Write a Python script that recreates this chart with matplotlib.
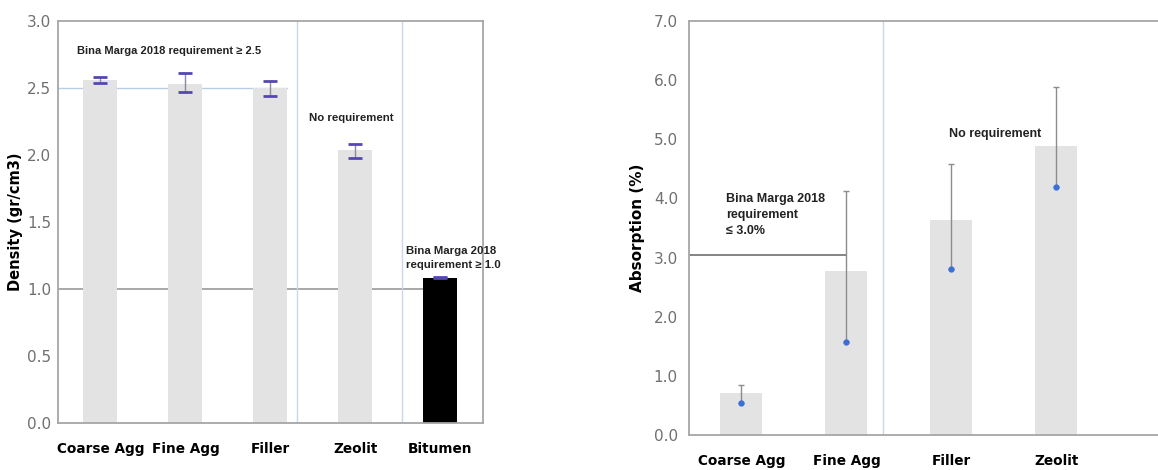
import numpy as np
import matplotlib.pyplot as plt

# density data (left panel)
dens_cats = ["Coarse Agg", "Fine Agg", "Filler", "Zeolit", "Bitumen"]
dens_vals = [2.56, 2.53, 2.50, 2.04, 1.08]
dens_lo = [2.54, 2.47, 2.44, 1.98, 1.08]
dens_hi = [2.58, 2.61, 2.55, 2.08, 1.09]

# absorption data (right panel)
abs_cats = ["Coarse Agg", "Fine Agg", "Filler", "Zeolit"]
abs_vals = [0.71, 2.78, 3.64, 4.88]
abs_point = [0.54, 1.58, 2.81, 4.19]
abs_hi = [0.85, 4.12, 4.58, 5.88]

bar_grey = "#e3e3e3"
spine_grey = "#a6a6a6"
tick_grey = "#707070"
note_font = "Liberation Sans"

fig = plt.figure(figsize=(11.58, 4.70), dpi=100)

# ---- left: density
ax1 = fig.add_axes([0.050, 0.100, 0.367, 0.855])
x1 = np.arange(len(dens_cats))
colors = [bar_grey] * 4 + ["black"]
ax1.bar(x1, dens_vals, width=0.4, color=colors, zorder=2)
yerr = [np.array(dens_vals) - np.array(dens_lo), np.array(dens_hi) - np.array(dens_vals)]
eb = ax1.errorbar(x1, dens_vals, yerr=yerr, fmt="none", ecolor="#8a8a9a",
                  elinewidth=1, capsize=5, capthick=2, zorder=3)
for cap in eb[1]:
    cap.set_markeredgecolor("#5448b0")

ax1.plot([-0.5, 2.2], [2.5, 2.5], color="#b8cde8", lw=1, zorder=1)
ax1.plot([-0.5, 3.8], [1.0, 1.0], color="#9a9a9a", lw=1.2, zorder=1)
ax1.axvline(2.31, color="#c8d6ee", lw=1, zorder=1)
ax1.axvline(3.55, color="#c8d6ee", lw=1, zorder=1)

ax1.text(-0.28, 2.78, "Bina Marga 2018 requirement \u2265 2.5", fontsize=8,
         fontweight="bold", family=note_font, color="#222222", va="center")
ax1.text(2.46, 2.28, "No requirement", fontsize=8.2, fontweight="bold",
         family=note_font, color="#222222", va="center")
ax1.text(3.6, 1.23, "Bina Marga 2018\nrequirement \u2265 1.0", fontsize=8.2,
         fontweight="bold", family=note_font, color="#222222",
         va="center", linespacing=1.5)

ax1.set_xlim(-0.5, 4.5)
ax1.set_ylim(0, 3.0)
ax1.set_yticks(np.arange(0, 3.01, 0.5))
ax1.set_yticklabels([f"{v:.1f}" for v in np.arange(0, 3.01, 0.5)])
ax1.set_xticks(x1)
ax1.set_xticklabels(dens_cats, fontweight="bold", fontsize=9.8)
ax1.set_ylabel("Density (gr/cm3)", fontweight="bold", fontsize=10.5, labelpad=3)
ax1.tick_params(axis="both", length=0)
ax1.tick_params(axis="y", labelcolor=tick_grey, labelsize=11, pad=5)
ax1.tick_params(axis="x", pad=14)
for s in ax1.spines.values():
    s.set_color(spine_grey)
    s.set_linewidth(1.3)

# ---- right: absorption
ax2 = fig.add_axes([0.595, 0.0745, 0.405, 0.881])
x2 = np.arange(len(abs_cats))
ax2.bar(x2, abs_vals, width=0.4, color=bar_grey, zorder=2)
up = np.array(abs_hi) - np.array(abs_point)
ax2.errorbar(x2, abs_point, yerr=[np.zeros(len(up)), up], fmt="o",
             color="#3a6fd8", markersize=3.5, ecolor="#8c8c8c",
             elinewidth=1, capsize=2, capthick=1, zorder=3)

ax2.plot([-0.5, 1.0], [3.05, 3.05], color="#7a7a7a", lw=1.3, zorder=1)
ax2.axvline(1.35, color="#c8d6ee", lw=1, zorder=1)

ax2.text(-0.15, 3.72, "Bina Marga 2018\nrequirement\n\u2264 3.0%", fontsize=9,
         fontweight="bold", family=note_font, color="#222222",
         va="center", linespacing=1.45)
ax2.text(1.98, 5.08, "No requirement", fontsize=9, fontweight="bold",
         family=note_font, color="#222222", va="center")

ax2.set_xlim(-0.5, 3.97)
ax2.set_ylim(0, 7.0)
ax2.set_yticks(np.arange(0, 7.01, 1.0))
ax2.set_yticklabels([f"{v:.1f}" for v in np.arange(0, 7.01, 1.0)])
ax2.set_xticks(x2)
ax2.set_xticklabels(abs_cats, fontweight="bold", fontsize=9.8)
ax2.set_ylabel("Absorption (%)", fontweight="bold", fontsize=11, labelpad=6)
ax2.tick_params(axis="both", length=0)
ax2.tick_params(axis="y", labelcolor=tick_grey, labelsize=11, pad=8)
ax2.tick_params(axis="x", pad=14)
ax2.spines["right"].set_visible(False)
for s in ax2.spines.values():
    s.set_color(spine_grey)
    s.set_linewidth(1.3)

fig.savefig("out.png", dpi=100)
